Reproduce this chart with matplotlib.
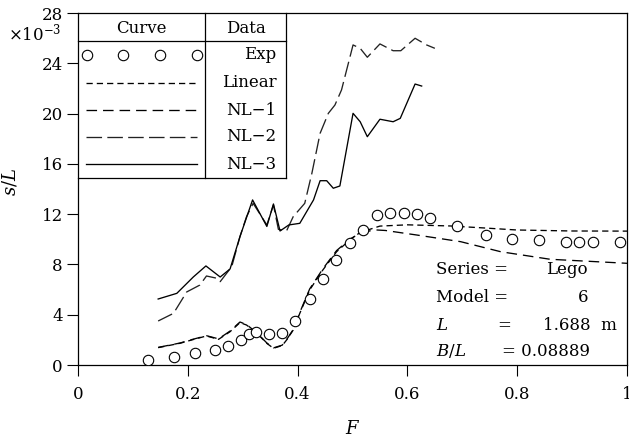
import matplotlib
matplotlib.use("Agg")
import matplotlib.pyplot as plt
from matplotlib.lines import Line2D

plt.rcParams['font.family'] = ['DejaVu Serif']
plt.rcParams['mathtext.fontset'] = 'dejavuserif'
plt.rcParams['lines.scale_dashes'] = False

# ---- data ----
exp_F = [0.127, 0.175, 0.213, 0.249, 0.273, 0.296, 0.312, 0.324, 0.348, 0.372,
         0.396, 0.422, 0.446, 0.470, 0.495, 0.520, 0.544, 0.569, 0.593, 0.618,
         0.642, 0.691, 0.743, 0.790, 0.840, 0.888, 0.913, 0.938, 0.987]
exp_s = [0.38, 0.61, 0.93, 1.22, 1.54, 2.01, 2.44, 2.65, 2.44, 2.55,
         3.48, 5.25, 6.88, 8.39, 9.73, 10.76, 11.91, 12.07, 12.07, 12.03,
         11.67, 11.03, 10.37, 10.02, 9.92, 9.78, 9.78, 9.76, 9.78]

lin_F = [0.146, 0.186, 0.207, 0.234, 0.256, 0.277, 0.295, 0.307, 0.326, 0.344,
         0.356, 0.372, 0.380, 0.392, 0.404, 0.422, 0.446, 0.471, 0.495, 0.514,
         0.550, 0.600, 0.678, 0.740, 0.799, 0.900, 1.000]
lin_s = [1.38, 1.73, 1.99, 2.31, 2.04, 2.65, 3.37, 3.18, 2.52, 1.72,
         1.33, 1.55, 1.99, 2.78, 4.11, 5.97, 7.56, 9.01, 9.94, 10.55,
         11.05, 11.15, 11.06, 10.90, 10.74, 10.66, 10.65]

nl1_F = [0.146, 0.186, 0.207, 0.234, 0.256, 0.277, 0.295, 0.307, 0.326, 0.344,
         0.356, 0.372, 0.380, 0.392, 0.404, 0.422, 0.446, 0.471, 0.495, 0.514,
         0.540, 0.560, 0.617, 0.697, 0.770, 0.860, 1.000]
nl1_s = [1.40, 1.75, 2.02, 2.33, 2.08, 2.70, 3.42, 3.22, 2.55, 1.75,
         1.36, 1.58, 2.02, 2.82, 4.18, 6.05, 7.65, 9.10, 10.0, 10.5,
         10.75, 10.7, 10.34, 9.81, 9.01, 8.41, 8.09]

nl2_F = [0.146, 0.174, 0.198, 0.222, 0.234, 0.253, 0.259, 0.280, 0.295, 0.307,
         0.319, 0.344, 0.356, 0.365, 0.380, 0.392, 0.413, 0.426, 0.441, 0.456,
         0.468, 0.480, 0.501, 0.514, 0.527, 0.550, 0.574, 0.588, 0.614, 0.635,
         0.650]
nl2_s = [3.50, 4.11, 5.81, 6.36, 7.08, 6.90, 6.63, 7.82, 10.21, 11.80,
         12.86, 11.14, 12.73, 10.79, 10.68, 11.80, 12.86, 15.25, 18.43, 20.02,
         20.68, 21.88, 25.46, 25.19, 24.48, 25.54, 25.00, 25.00, 25.99, 25.46,
         25.19]

nl3_F = [0.146, 0.180, 0.210, 0.233, 0.259, 0.277, 0.295, 0.318, 0.344, 0.356,
         0.368, 0.384, 0.404, 0.429, 0.441, 0.453, 0.465, 0.477, 0.501, 0.514,
         0.527, 0.550, 0.574, 0.587, 0.614, 0.626]
nl3_s = [5.25, 5.70, 7.00, 7.88, 7.00, 7.64, 10.21, 13.13, 11.02, 12.81,
         10.66, 11.14, 11.27, 13.13, 14.66, 14.66, 14.06, 14.24, 20.02, 19.35,
         18.16, 19.55, 19.35, 19.62, 22.35, 22.19]

x_ticks = [0, 0.2, 0.4, 0.6, 0.8, 1.0]
x_labels = ['0', '0.2', '0.4', '0.6', '0.8', '1']
y_ticks = [0, 4, 8, 12, 16, 20, 24, 28]
y_labels = ['0', '4', '8', '12', '16', '20', '24', '28']

series_names = ['Exp', 'Linear', 'NL-1', 'NL-2', 'NL-3']
info_labels = ['Series =', 'Model =', '$L$', '$B/L$']
info_values = ['Lego', '6', '1.688  m', '= 0.08889']

# ---- styles ----
lw = 0.95
st_lin = dict(color='black', lw=lw, dashes=(4.5, 2.9))
st_nl1 = dict(color='black', lw=lw, dashes=(7.6, 4.3))
st_nl2 = dict(color='#222222', lw=lw, dashes=(11.2, 3.8))
st_nl3 = dict(color='black', lw=lw, linestyle='-')
st_exp = dict(linestyle='none', marker='o', markersize=7.5, markerfacecolor='white',
              markeredgecolor='black', markeredgewidth=0.8)

fig = plt.figure(figsize=(6.29, 4.37), dpi=100)
ax = fig.add_axes([78/629, 1-365/437, 549/629, 352/437])

ax.plot(lin_F, lin_s, **st_lin)
ax.plot(nl1_F, nl1_s, **st_nl1)
ax.plot(nl2_F, nl2_s, **st_nl2)
ax.plot(nl3_F, nl3_s, **st_nl3)
ax.plot(exp_F, exp_s, **st_exp, zorder=5)

ax.set_xlim(0, 1)
ax.set_ylim(0, 28)
ax.set_xticks(x_ticks)
ax.set_xticklabels(x_labels)
ax.set_yticks(y_ticks)
ax.set_yticklabels(y_labels)
ax.tick_params(direction='out', length=8, width=0.8, labelsize=12, top=False, right=False)
ax.tick_params(axis='x', pad=7)
ax.tick_params(axis='y', pad=3)
for sp in ax.spines.values():
    sp.set_linewidth(0.9)

ax.set_xlabel('$F$', fontsize=13)
ax.xaxis.set_label_coords(0.5, -0.155)
ax.set_ylabel('$s/L$', fontsize=13)
ax.yaxis.set_label_coords(-0.107, 0.52)

fig.text(8/629, 1-33/437, r'$\times10^{-3}$', fontsize=12, ha='left', va='center')

# ---- table legend ----
T = ax.transAxes
x0, x1, xd = 0.0, 0.379, 0.2313
yb, yt, yh = 0.531, 1.0, 0.9205
for xs, ys in [([x0, x1], [yb, yb]), ([x1, x1], [yb, yt]), ([xd, xd], [yb, yt]),
               ([x0, x1], [yh, yh])]:
    ax.add_line(Line2D(xs, ys, transform=T, color='black', lw=0.9, clip_on=False))
ax.text(0.116, 0.9565, 'Curve', transform=T, ha='center', va='center', fontsize=12)
ax.text(0.305, 0.9565, 'Data', transform=T, ha='center', va='center', fontsize=12)
row_y = [0.881, 0.802, 0.724, 0.649, 0.571]
styles = [st_exp, st_lin, st_nl1, st_nl2, st_nl3]
for name, yy, st in zip(series_names, row_y, styles):
    if name == 'Exp':
        ax.add_line(Line2D([0.0158, 0.0825, 0.1494, 0.2173], [yy]*4, transform=T, **st))
    else:
        ax.add_line(Line2D([0.0146, 0.2168], [yy, yy], transform=T, **st))
    ax.text(0.362, yy, name.replace('-', '\u2212'), transform=T, ha='right', va='center', fontsize=12)

# ---- info block ----
info_y = [0.270, 0.193, 0.113, 0.039]
for lab, val, yy in zip(info_labels, info_values, info_y):
    ax.text(0.653, yy, lab, transform=T, ha='left', va='center', fontsize=12)
ax.text((497-78)/549, info_y[2], '=', transform=T, ha='left', va='center', fontsize=12)
ax.text((588-78)/549, info_y[0], info_values[0], transform=T, ha='right', va='center', fontsize=12)
ax.text((588-78)/549, info_y[1], info_values[1], transform=T, ha='right', va='center', fontsize=12)
ax.text((617-78)/549, info_y[2], info_values[2], transform=T, ha='right', va='center', fontsize=12)
ax.text((590-78)/549, info_y[3], info_values[3], transform=T, ha='right', va='center', fontsize=12)

fig.savefig('out.png', dpi=100)
